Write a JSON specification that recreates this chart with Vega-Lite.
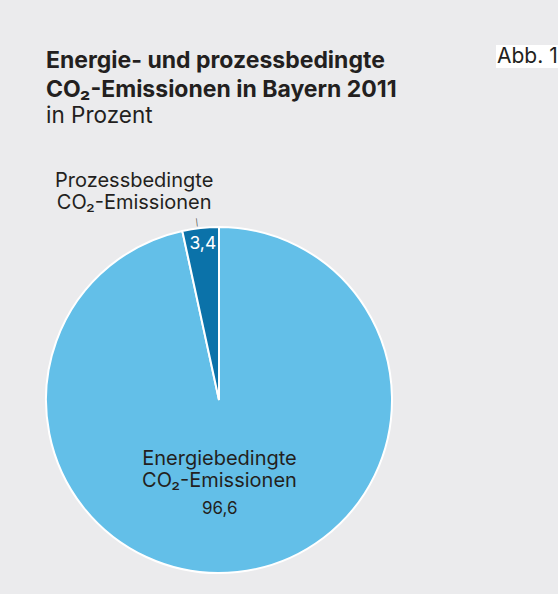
{
  "$schema": "https://vega.github.io/schema/vega-lite/v6.json",
  "width": 346,
  "height": 346,
  "autosize": {"type": "none"},
  "padding": {"left": 46, "top": 227, "right": 166, "bottom": 21},
  "background": "#ebebed",
  "config": {"view": {"stroke": null}, "font": "Inter"},
  "title": {
    "text": ["Energie- und prozessbedingte", "CO₂-Emissionen in Bayern 2011"],
    "subtitle": "in Prozent",
    "anchor": "start",
    "frame": "group",
    "offset": -82,
    "font": "Inter",
    "fontSize": 23,
    "fontWeight": "bold",
    "lineHeight": 29,
    "color": "#231f20",
    "subtitleFont": "Inter",
    "subtitleFontSize": 22.5,
    "subtitleColor": "#231f20",
    "subtitleLineHeight": 29,
    "subtitlePadding": 3
  },
  "data": {
    "values": [
      {"kategorie": "Energiebedingte", "name": "Energiebedingte\nCO₂-Emissionen", "anteil": 96.6, "wert": "96,6"},
      {"kategorie": "Prozessbedingte", "name": "Prozessbedingte\nCO₂-Emissionen", "anteil": 3.4, "wert": "3,4"}
    ]
  },
  "encoding": {
    "theta": {"field": "anteil", "type": "quantitative", "stack": true},
    "order": {"field": "kategorie", "type": "nominal", "sort": "ascending"}
  },
  "layer": [
    {
      "mark": {"type": "arc", "stroke": "white", "strokeWidth": 2},
      "encoding": {
        "color": {
          "field": "kategorie",
          "type": "nominal",
          "scale": {"domain": ["Energiebedingte", "Prozessbedingte"], "range": ["#63bfe8", "#0b72a9"]},
          "legend": {
            "title": "Abb. 1",
            "values": [],
            "orient": "none",
            "legendX": 450,
            "legendY": -182,
            "fillColor": "white",
            "padding": 1,
            "titleFontSize": 21,
            "titleFontWeight": "normal",
            "titleColor": "#231f20",
            "titleFont": "Inter",
            "titlePadding": 0
          }
        }
      }
    },
    {
      "mark": {"type": "text", "radius": 65.4, "lineBreak": "\n", "fontSize": 20, "dx": -6.5, "baseline": "alphabetic", "color": "#231f20", "lineHeight": 22},
      "encoding": {
        "text": {"condition": {"test": "datum.kategorie === 'Energiebedingte'", "field": "name"}, "value": ""}
      }
    },
    {
      "mark": {"type": "text", "radius": 114.7, "fontSize": 17, "dx": -11.5, "baseline": "alphabetic", "color": "#231f20"},
      "encoding": {
        "text": {"condition": {"test": "datum.kategorie === 'Energiebedingte'", "field": "wert"}, "value": ""}
      }
    },
    {
      "mark": {"type": "text", "radius": 151.9, "fontSize": 17.5, "baseline": "alphabetic", "color": "white"},
      "encoding": {
        "text": {"condition": {"test": "datum.kategorie === 'Prozessbedingte'", "field": "wert"}, "value": ""}
      }
    },
    {
      "mark": {"type": "text", "radius": 214.2, "lineBreak": "\n", "fontSize": 20, "dx": -62, "baseline": "alphabetic", "color": "#231f20", "lineHeight": 22},
      "encoding": {
        "text": {"condition": {"test": "datum.kategorie === 'Prozessbedingte'", "field": "name"}, "value": ""}
      }
    },
    {
      "mark": {"type": "text", "radius": 178.5, "fontSize": 7, "dx": -3, "angle": -7, "baseline": "middle", "color": "#231f20"},
      "encoding": {
        "text": {"condition": {"test": "datum.kategorie === 'Prozessbedingte'", "value": "|"}, "value": ""}
      }
    }
  ]
}
